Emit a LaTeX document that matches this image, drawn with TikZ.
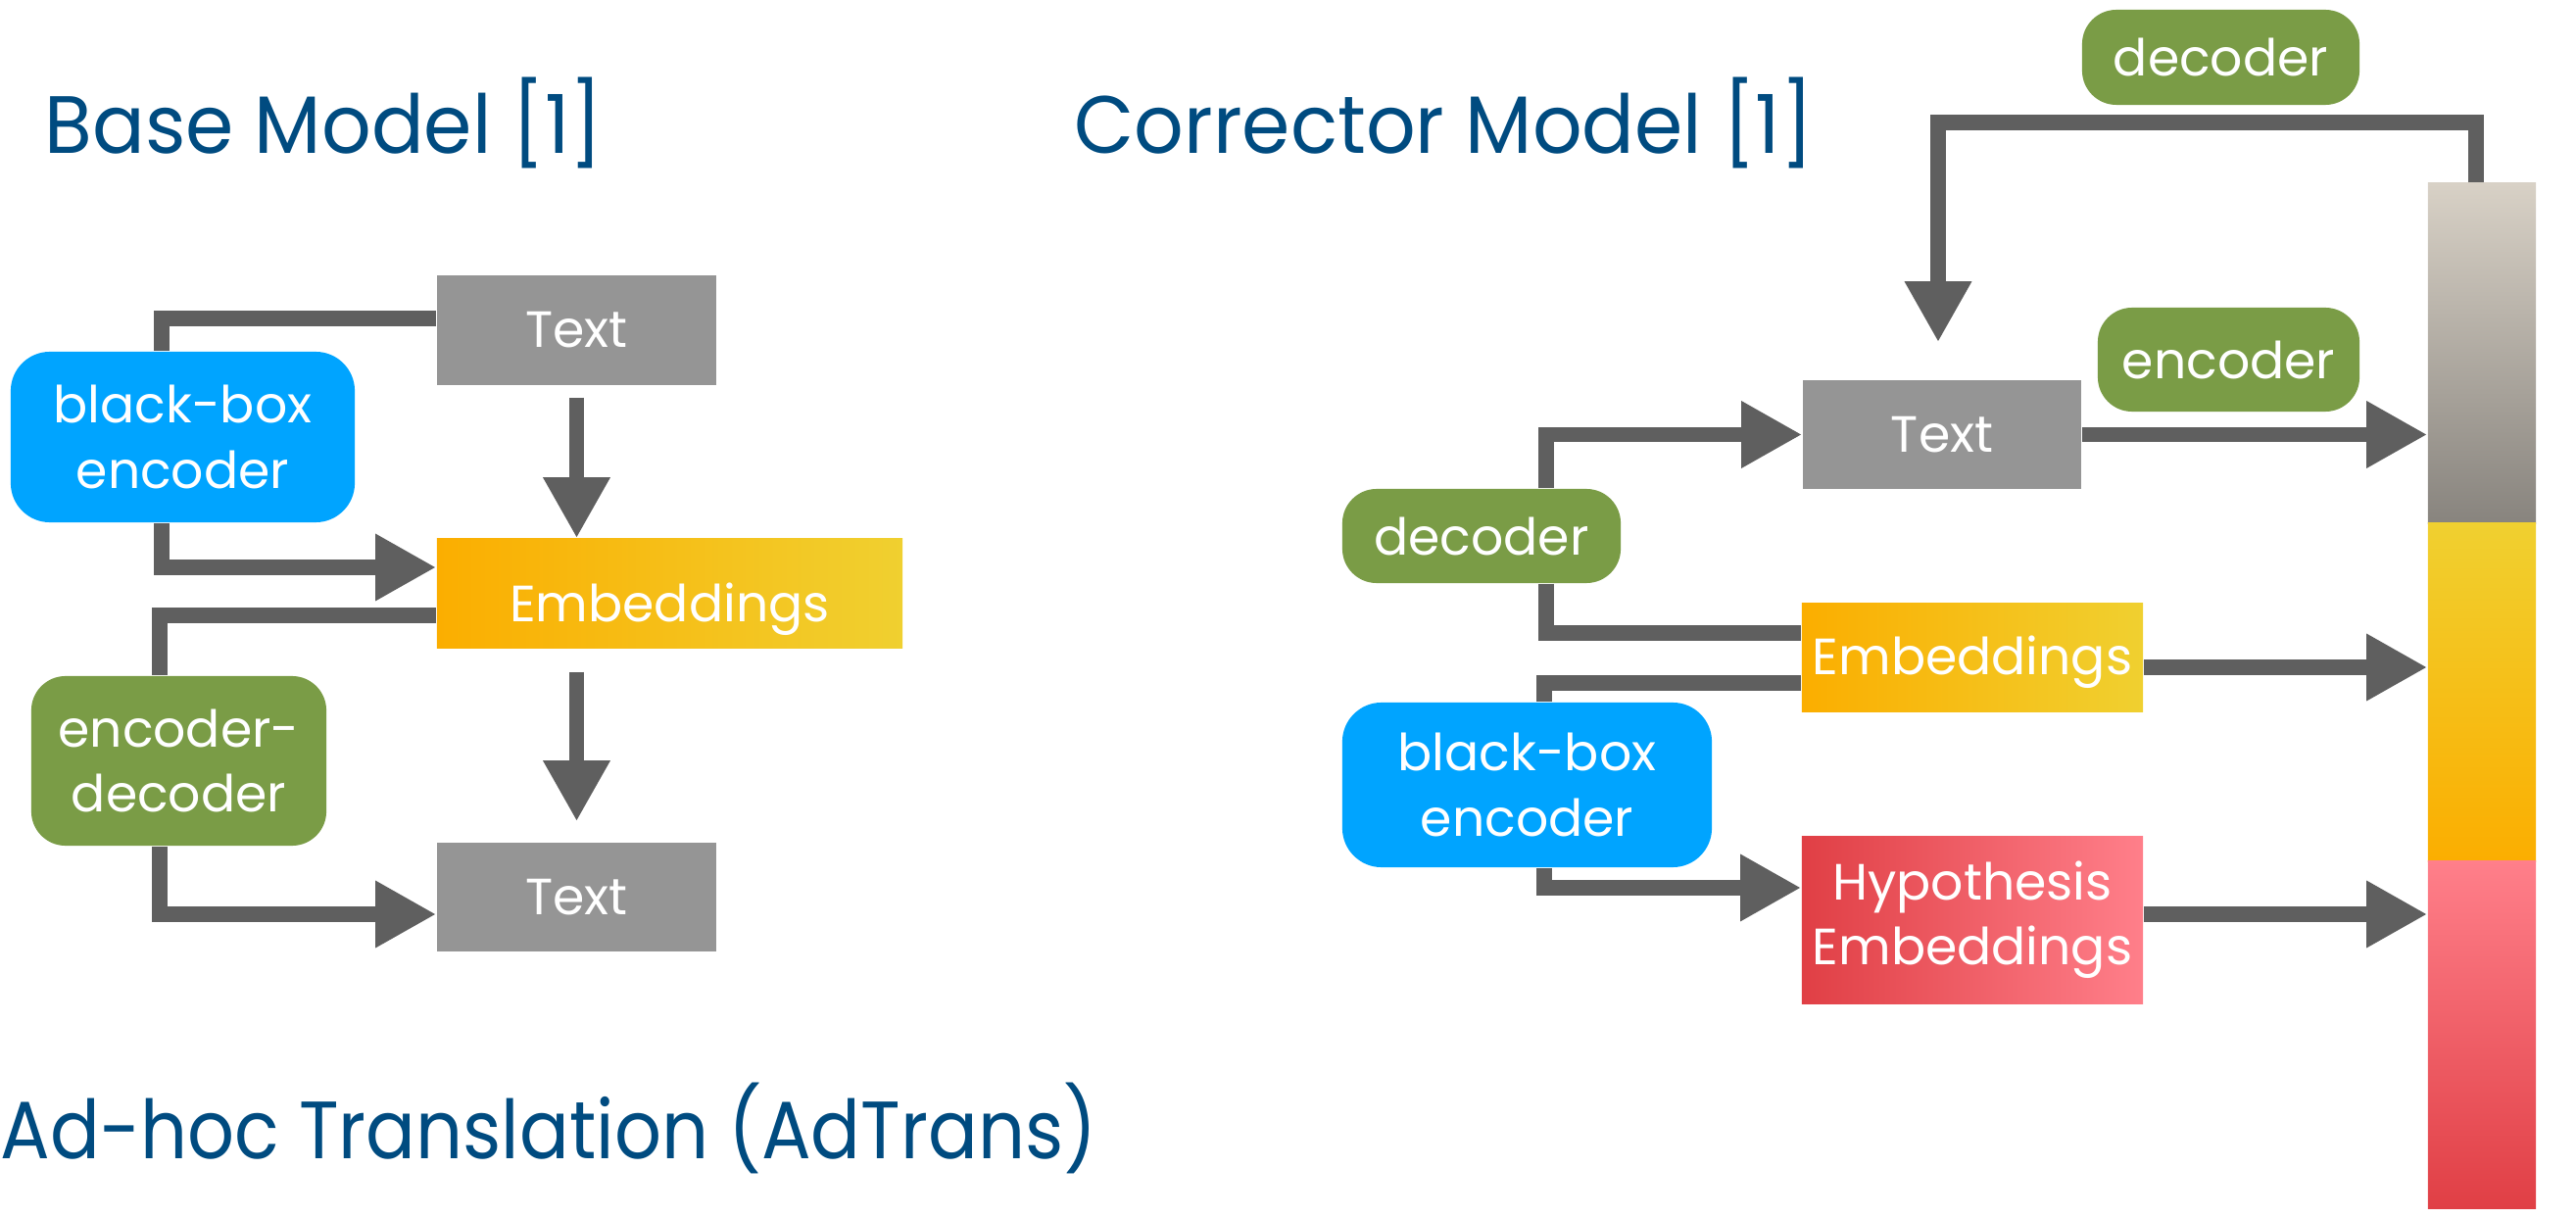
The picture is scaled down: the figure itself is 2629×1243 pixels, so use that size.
\documentclass[tikz,border=0pt]{standalone}
\usepackage{fontspec}
\setmainfont{Poppins}
\usetikzlibrary{arrows.meta,calc}
\definecolor{titleblue}{HTML}{004B80}
\definecolor{boxgray}{HTML}{959595}
\definecolor{bbblue}{HTML}{00A4FF}
\definecolor{encgreen}{HTML}{7A9C46}
\definecolor{conngray}{HTML}{5F5F5F}
\definecolor{embL}{HTML}{FBAE00}
\definecolor{embR}{HTML}{F0D030}
\definecolor{hypL}{HTML}{E03F45}
\definecolor{hypR}{HTML}{FF7F8A}
\definecolor{barGT}{HTML}{D8D1C6}
\definecolor{barGB}{HTML}{88847E}
\newcommand{\lblfont}{\fontsize{14.8pt}{18.8pt}\selectfont}
\newcommand{\ttlfont}{\fontsize{23.6pt}{28pt}\selectfont}
\begin{document}
\begin{tikzpicture}[x=0.01cm,y=-0.01cm,
  boxnode/.style={inner sep=0pt, text=white, font=\lblfont, align=center},
  graybox/.style={boxnode, fill=boxgray},
  embbox/.style={boxnode, left color=embL, right color=embR, shading angle=90},
  hypbox/.style={boxnode, left color=hypL, right color=hypR},
  bluebox/.style={boxnode, fill=bbblue, rounded corners=0.4cm},
  greenbox/.style={boxnode, fill=encgreen, rounded corners=0.35cm},
  conn/.style={draw=conngray, line width=0.155cm},
  arr/.style={conn, -{Triangle[length=0.62cm,width=0.64cm]}},
  ttl/.style={text=titleblue, font=\ttlfont, inner sep=0pt, anchor=base west},
  barseg/.style={inner sep=0pt, minimum width=1.1cm}
]
\useasboundingbox (0,0) rectangle (2629,1243);

% titles
\node[ttl] (t1) at (45,157) {\scalebox{0.957}[1]{Base Model [1]}};
\node[ttl] (t2) at (1096,157) {\scalebox{0.956}[1]{Corrector Model [1]}};
\node[ttl] (t3) at (0,1182) {\scalebox{0.905}[1]{Ad-hoc Translation (AdTrans)}};

% left part
\node[graybox, minimum width=2.85cm, minimum height=1.12cm] (textA) at (588.5,337) {Text};
\node[embbox, minimum width=4.75cm, minimum height=1.11cm] (embA) at (683.5,605.5) {\raisebox{-0.16cm}[\height][\depth]{Embeddings}};
\node[graybox, minimum width=2.85cm, minimum height=1.11cm] (textB) at (588.5,915.5) {Text};
\node[bluebox, minimum width=3.51cm, minimum height=1.74cm] (bbA) at (186.5,446) {black-box\\encoder};
\node[greenbox, minimum width=3.01cm, minimum height=1.73cm] (edA) at (182.5,776.5) {encoder-\\decoder};

\draw[conn] ([yshift=0.12cm]textA.west) -| ([xshift=-0.215cm]bbA.north);
\draw[arr] ([xshift=-0.215cm]bbA.south) |- ([yshift=0.265cm]embA.west);
\draw[conn] ([yshift=-0.225cm]embA.west) -| ([xshift=-0.195cm]edA.north);
\draw[arr] ([xshift=-0.195cm]edA.south) |- ([yshift=-0.175cm]textB.west);
\draw[arr] ($(textA.south)+(0,12)$) -- (textA.south |- embA.north);
\draw[arr] ($(textA.south |- embA.south)+(0,24)$) -- ($(textB.north)+(0,-21)$);

% right part
\node[graybox, minimum width=2.84cm, minimum height=1.11cm] (textC) at (1982,443.5) {Text};
\node[embbox, minimum width=3.48cm, minimum height=1.10cm] (embC) at (2013,671) {\raisebox{-0.05cm}[\height][\depth]{Embeddings}};
\node[hypbox, minimum width=3.48cm, minimum height=1.70cm] (hypC) at (2013,939) {Hypothesis\\Embeddings};

\node[barseg, minimum height=3.47cm, top color=barGT, bottom color=barGB] (barG) at (2533,360.5) {};
\node[barseg, minimum height=3.45cm, top color=embR, bottom color=embL] (barY) at (2533,706.5) {};
\node[barseg, minimum height=3.54cm, top color=hypR, bottom color=hypL] (barP) at (2533,1056) {};

\node[greenbox, minimum width=2.83cm, minimum height=0.97cm] (decT) at (2266.5,58.5) {decoder};
\node[greenbox, minimum width=2.67cm, minimum height=1.06cm] (encC) at (2274.5,367) {encoder};
\node[greenbox, minimum width=2.84cm, minimum height=0.96cm] (decL) at (1512,547) {decoder};
\node[bluebox, minimum width=3.77cm, minimum height=1.68cm] (bbC) at (1558.5,801) {black-box\\encoder};

\coordinate (loopTop) at ($(barG.north)+(-6,-61)$);
\draw[arr] ($(barG.north)+(-6,0)$) -- (loopTop) -| ($(textC.north)+(-4,-38)$);
\draw[arr] (textC.east) -- (textC.east -| barG.west);
\draw[arr] ([yshift=-0.1cm]embC.east) -- ([yshift=-0.1cm]embC.east -| barY.west);
\draw[arr] ([yshift=0.06cm]hypC.east) -- ([yshift=0.06cm]hypC.east -| barP.west);
\draw[arr] ([xshift=0.66cm]decL.north) |- (textC.west);
\draw[conn] ([xshift=0.66cm]decL.south) |- ([yshift=0.25cm]embC.west);
\draw[conn] ([xshift=0.175cm]bbC.north) |- ([yshift=-0.26cm]embC.west);
\draw[arr] ([xshift=0.175cm]bbC.south) |- ([yshift=0.33cm]hypC.west);
\end{tikzpicture}
\end{document}
